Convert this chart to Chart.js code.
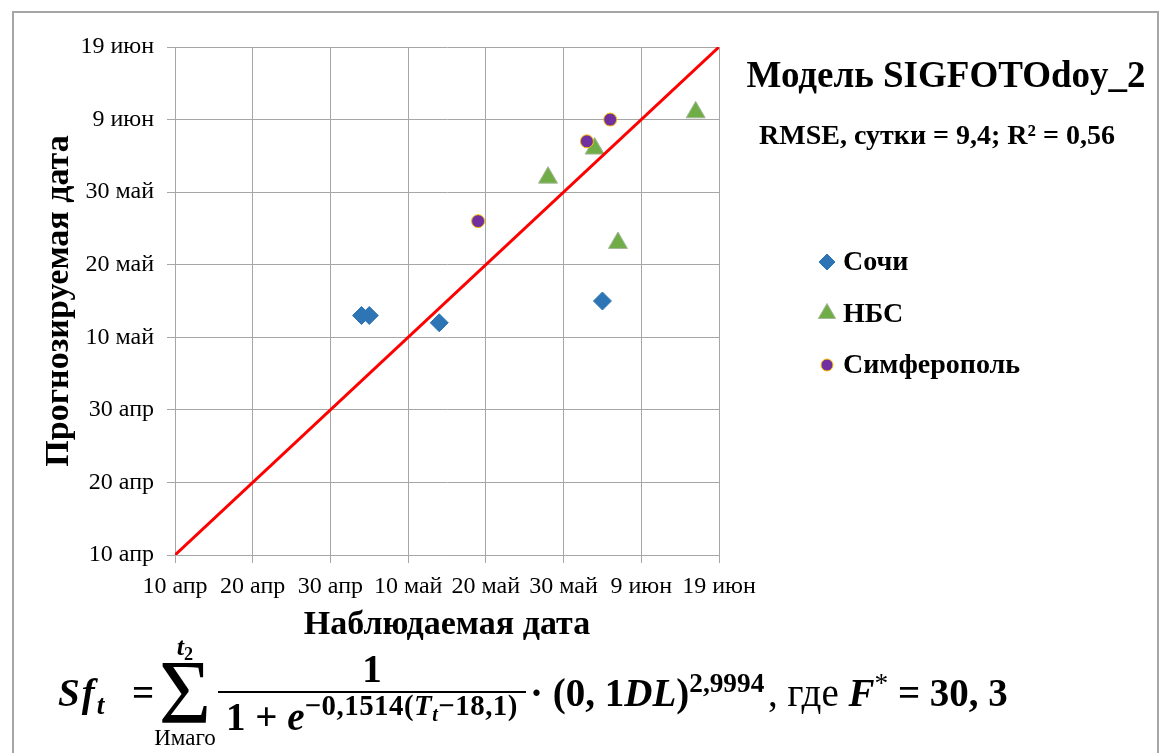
<!DOCTYPE html>
<html>
<head>
<meta charset="utf-8">
<script src="https://cdn.jsdelivr.net/npm/chart.js@4.4.1/dist/chart.umd.min.js"></script>
<style>
html, body { margin: 0; padding: 0; background: #fff; }
#wrap { position: relative; width: 1161px; height: 753px; overflow: hidden; font-family: 'Liberation Serif', serif; color: #000; }
#frame { position: absolute; left: 12px; top: 11px; width: 1147px; height: 800px; border: 2px solid #a6a6a6; box-sizing: border-box; }
#chart { position: absolute; left: 0; top: 0; }
.txt { position: absolute; font-weight: bold; white-space: nowrap; transform: translateX(-50%); line-height: 1; }
#formula { position: absolute; left: 0; top: 622px; width: 1161px; height: 140px; font-weight: bold; font-size: 39px; white-space: nowrap; line-height: 1; }
#formula .g { position: absolute; top: 0; height: 140px; display: flex; align-items: center; }
#formula i { font-style: italic; }
#formula sub, #formula sup { font-size: 0.7em; line-height: 0; }
#formula sub { vertical-align: -0.28em; }
#formula sup { vertical-align: 0.5em; }
.sum { flex-direction: column; justify-content: center; }
.sig { font-size: 90px; font-weight: normal; line-height: 0.72; }
.lim { font-size: 26px; line-height: 1.05; }
.lim2 { font-size: 23px; line-height: 1.1; font-weight: normal; }
.rg { font-weight: normal; }
.frac { display: inline-flex; flex-direction: column; align-items: center; width: 308px; }
.num { border-bottom: 2px solid #000; width: 100%; text-align: center; padding-bottom: 3px; }
.den { padding-top: 4px; }
.den sup { font-size: 0.74em !important; letter-spacing: 0.5px; }
</style>
</head>
<body>
<div id="wrap">
  <div id="frame"></div>
  <canvas id="chart" width="1161" height="753"></canvas>
  <div class="txt" style="left:946px; top:56px; font-size:37px;">Модель SIGFOTOdoy_2</div>
  <div class="txt" style="left:937px; top:121px; font-size:28px;">RMSE, сутки = 9,4; R² = 0,56</div>
  <div id="formula">
    <div class="g" style="left:58px; letter-spacing:2px;"><span><i>Sf</i><sub><i>t</i></sub></span></div>
    <div class="g" style="left:132px;">=</div>
    <div class="g sum" style="left:152px; width:66px;"><span class="lim"><i>t</i><sub>2</sub></span><span class="sig">Σ</span><span class="lim2">Имаго</span></div>
    <div class="g" style="left:218px;"><span class="frac"><span class="num">1</span><span class="den">1 + <i>e</i><sup>−0,1514(<i>T</i><sub><i>t</i></sub>−18,1)</sup></span></span></div>
    <div class="g" style="left:530px;"><span>· (0, 1<i>DL</i>)<sup>2,9994</sup></span></div>
    <div class="g" style="left:768px;"><span class="rg">, где&nbsp;</span><span><i>F</i><sup class="rg">*</sup>&nbsp;= 30, 3</span></div>
  </div>
</div>
<script>
// day of year: 100 = 10 апр ... 170 = 19 июн
const tickLabels = ['10 апр', '20 апр', '30 апр', '10 май', '20 май', '30 май', '9 июн', '19 июн'];

const sochiX = [124, 125, 134, 155];
const sochiY = [133, 133, 132, 135];

const nbsX = [148, 154, 157, 167];
const nbsY = [152, 156, 143, 161];

const simfX = [139, 153, 156];
const simfY = [146, 157, 160];

const lineX = [100, 170];
const lineY = [100, 170];

const legendNames = ['Сочи', 'НБС', 'Симферополь'];

function pts(xs, ys) {
  return xs.map((x, i) => ({ x: x, y: ys[i] }));
}

const serif = 'Liberation Serif';

// legend drawn beside the plot, like in the original
const sideLegend = {
  id: 'sideLegend',
  afterDraw(chart) {
    const ctx = chart.ctx;
    ctx.save();
    legendNames.forEach((name, i) => {
      const ds = chart.data.datasets.find(d => d.label === name);
      const y = 262 + i * 51.5;
      ctx.fillStyle = ds.backgroundColor;
      ctx.strokeStyle = ds.borderColor;
      ctx.lineWidth = ds.borderWidth;
      Chart.helpers.drawPoint(ctx, { pointStyle: ds.pointStyle, radius: ds.legendRadius, borderWidth: ds.borderWidth, rotation: 0 }, 827, y);
      ctx.fillStyle = '#000';
      ctx.font = 'bold 28px "' + serif + '"';
      ctx.textBaseline = 'middle';
      ctx.textAlign = 'left';
      ctx.fillText(name, 843, y + 1);
    });
    ctx.restore();
  }
};

const ctx = document.getElementById('chart').getContext('2d');
const chart = new Chart(ctx, {
  type: 'scatter',
  data: {
    datasets: [
      {
        label: 'line',
        data: pts(lineX, lineY),
        showLine: true,
        borderColor: '#ff0000',
        borderWidth: 3,
        pointRadius: 0,
        order: 0
      },
      {
        label: 'Симферополь',
        data: pts(simfX, simfY),
        pointStyle: 'circle',
        backgroundColor: '#7030a0',
        borderColor: '#ffc000',
        borderWidth: 1,
        pointRadius: 6.5,
        legendRadius: 6,
        order: 1
      },
      {
        label: 'НБС',
        data: pts(nbsX, nbsY),
        pointStyle: 'triangle',
        backgroundColor: '#70ad47',
        borderColor: '#a5b89a',
        borderWidth: 1,
        pointRadius: 11,
        legendRadius: 10,
        order: 2
      },
      {
        label: 'Сочи',
        data: pts(sochiX, sochiY),
        pointStyle: 'rectRot',
        backgroundColor: '#2e75b6',
        borderColor: '#2e75b6',
        borderWidth: 1,
        pointRadius: 9,
        legendRadius: 8,
        order: 3
      }
    ]
  },
  options: {
    responsive: false,
    animation: false,
    layout: { padding: { left: 39, top: 47, right: 442, bottom: 107 } },
    plugins: {
      legend: { display: false },
      tooltip: { enabled: false }
    },
    scales: {
      x: {
        type: 'linear',
        min: 100,
        max: 170,
        ticks: {
          stepSize: 10,
          autoSkip: false,
          maxRotation: 0,
          padding: 9,
          color: '#000',
          font: { family: serif, size: 24 },
          callback: v => tickLabels[(v - 100) / 10]
        },
        grid: { color: '#a6a6a6', tickLength: 8 },
        border: { color: '#a6a6a6' },
        title: {
          display: true,
          text: 'Наблюдаемая дата',
          color: '#000',
          padding: 0,
          font: { family: serif, size: 34, weight: 'bold' }
        },
        afterFit: s => { s.height = 91; }
      },
      y: {
        type: 'linear',
        min: 100,
        max: 170,
        ticks: {
          stepSize: 10,
          autoSkip: false,
          padding: 13,
          color: '#000',
          font: { family: serif, size: 24 },
          callback: v => tickLabels[(v - 100) / 10]
        },
        grid: { color: '#a6a6a6', tickLength: 8 },
        border: { color: '#a6a6a6' },
        title: {
          display: true,
          text: 'Прогнозируемая дата',
          color: '#000',
          padding: 0,
          font: { family: serif, size: 34, weight: 'bold' }
        },
        afterFit: s => { s.width = 136; }
      }
    }
  },
  plugins: [sideLegend]
});
</script>
</body>
</html>
